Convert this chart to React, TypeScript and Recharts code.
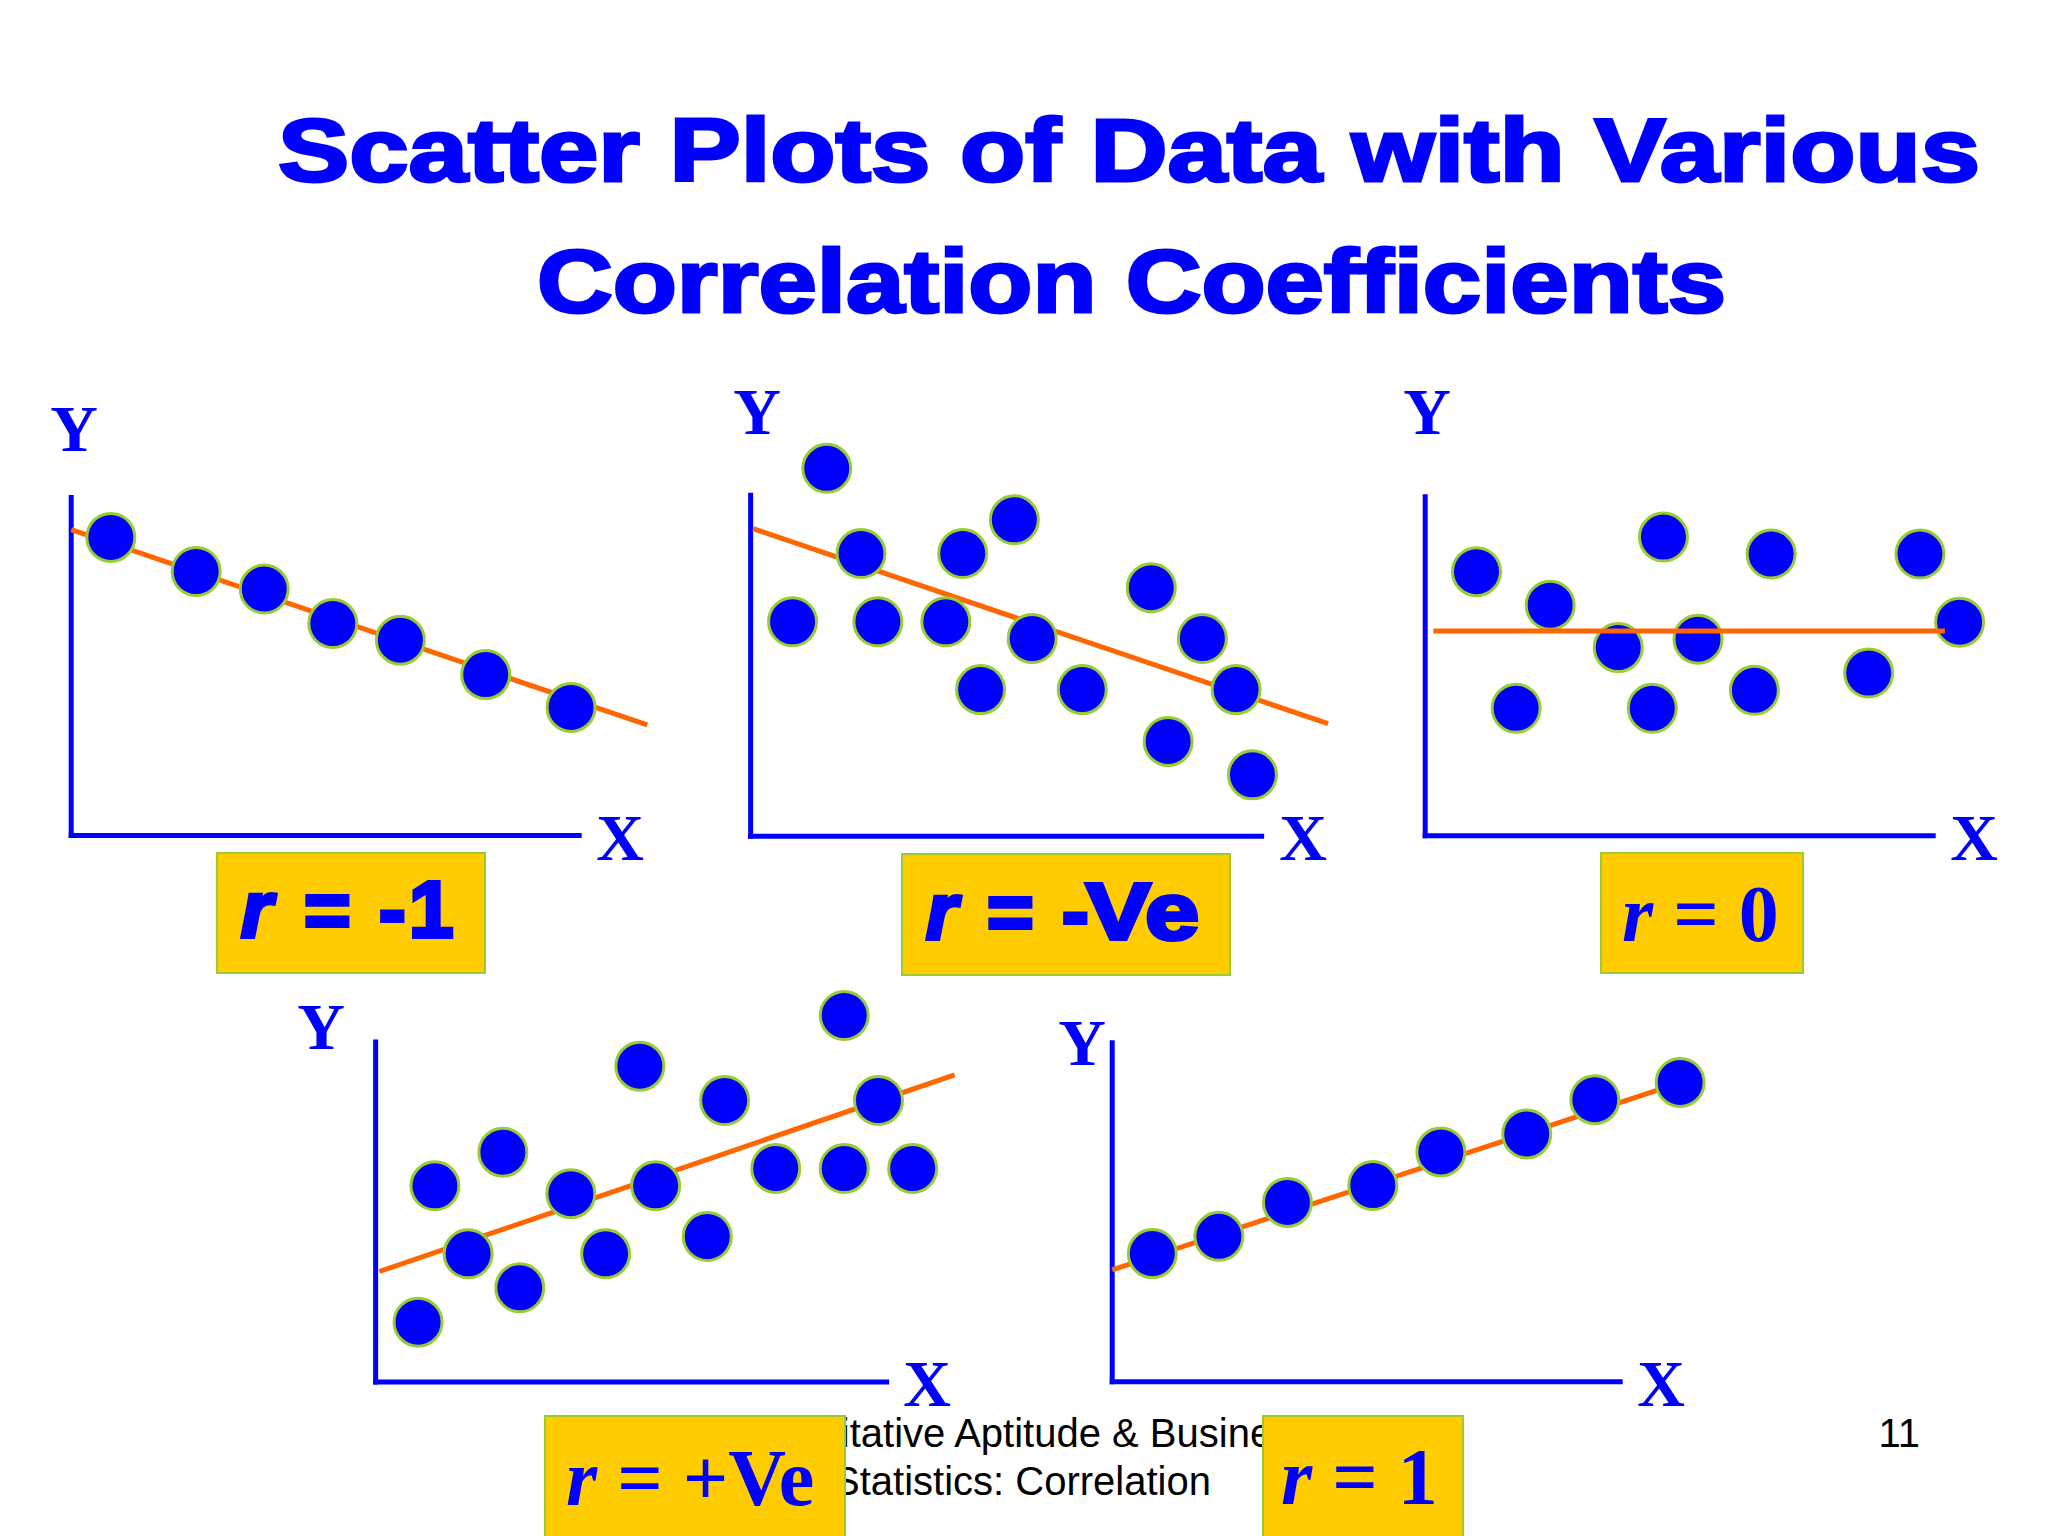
import { ScatterChart, Scatter, XAxis, YAxis, ReferenceLine } from "recharts";

// point clouds, in axis units: 0..10 along each drawn axis
const perfectNegative = [
  { x: 0.78, y: 8.82 }, { x: 2.46, y: 7.81 }, { x: 3.8, y: 7.29 }, { x: 5.15, y: 6.27 },
  { x: 6.48, y: 5.78 }, { x: 8.16, y: 4.76 }, { x: 9.84, y: 3.79 },
];
const perfectNegativeTrend = [{ x: 0, y: 9.05 }, { x: 11.34, y: 3.27 }];

const negative = [
  { x: 1.49, y: 10.79 }, { x: 2.16, y: 8.29 }, { x: 4.15, y: 8.29 }, { x: 5.16, y: 9.28 },
  { x: 0.82, y: 6.29 }, { x: 2.49, y: 6.29 }, { x: 3.82, y: 6.29 }, { x: 5.51, y: 5.8 },
  { x: 4.5, y: 4.3 }, { x: 6.49, y: 4.3 }, { x: 7.84, y: 7.29 }, { x: 8.84, y: 5.8 },
  { x: 9.5, y: 4.3 }, { x: 8.17, y: 2.78 }, { x: 9.82, y: 1.8 },
];
const negativeTrend = [{ x: 0.05, y: 9.02 }, { x: 11.3, y: 3.3 }];

const none = [
  { x: 1.01, y: 7.79 }, { x: 2.46, y: 6.8 }, { x: 3.8, y: 5.55 }, { x: 5.37, y: 5.8 },
  { x: 4.69, y: 8.81 }, { x: 6.81, y: 8.31 }, { x: 9.74, y: 8.31 }, { x: 10.52, y: 6.3 },
  { x: 1.79, y: 3.76 }, { x: 4.47, y: 3.76 }, { x: 6.48, y: 4.29 }, { x: 8.73, y: 4.8 },
];
const noneTrend = [{ x: 0.16, y: 6.04 }, { x: 10.23, y: 6.04 }];

const positive = [
  { x: 0.83, y: 1.76 }, { x: 1.16, y: 5.77 }, { x: 1.81, y: 3.77 }, { x: 2.49, y: 6.76 },
  { x: 2.82, y: 2.77 }, { x: 3.82, y: 5.54 }, { x: 4.5, y: 3.77 }, { x: 5.17, y: 9.29 },
  { x: 5.48, y: 5.77 }, { x: 6.49, y: 4.28 }, { x: 6.83, y: 8.28 }, { x: 7.83, y: 6.28 },
  { x: 9.17, y: 10.78 }, { x: 9.17, y: 6.28 }, { x: 9.84, y: 8.28 }, { x: 10.51, y: 6.28 },
];
const positiveTrend = [{ x: 0.07, y: 3.25 }, { x: 11.33, y: 9.03 }];

const perfectPositive = [
  { x: 0.79, y: 3.78 }, { x: 2.1, y: 4.29 }, { x: 3.45, y: 5.29 }, { x: 5.13, y: 5.79 },
  { x: 6.47, y: 6.78 }, { x: 8.16, y: 7.31 }, { x: 9.5, y: 8.32 }, { x: 11.18, y: 8.83 },
];
const perfectPositiveTrend = [{ x: 0, y: 3.3 }, { x: 11.2, y: 8.83 }];

const rSigns = ["-", "-", "", "+", ""];
const rValues = ["1", "Ve", "0", "Ve", "1"];

const BLUE = "#0000FF";
const ORANGE = "#FF6600";
const EDGE = "#99CC33";
const GOLD = "#FFCC00";
const X_DOMAIN = [-1.5, 12.5];
const Y_DOMAIN = [-1.5, 12.5];
const AXIS_MAX = 10;
const SANS = "'Liberation Sans', Arial, sans-serif";
const SERIF = "'Liberation Serif', 'Times New Roman', serif";

const dot = (p: any) => (
  <circle cx={p.cx} cy={p.cy} r={24} fill={BLUE} stroke={EDGE} strokeWidth={3} />
);
const noDot = () => <g />;

type Layout = { ox: number; oy: number; w: number; h: number };

function Panel({ layout, points, trend, lineOnTop }: { layout: Layout; points: any[]; trend: any[]; lineOnTop?: boolean }) {
  const { ox, oy, w, h } = layout;
  const ux = w / AXIS_MAX;
  const uy = h / AXIS_MAX;
  const width = (X_DOMAIN[1] - X_DOMAIN[0]) * ux;
  const height = (Y_DOMAIN[1] - Y_DOMAIN[0]) * uy;
  const left = ox + X_DOMAIN[0] * ux;
  const top = oy - Y_DOMAIN[1] * uy;

  const trendSeries = (
    <Scatter key="trend" data={trend} stroke={ORANGE} strokeWidth={5}
      line={{ stroke: ORANGE, strokeWidth: 5 }} shape={noDot} isAnimationActive={false} />
  );
  const dotSeries = <Scatter key="dots" data={points} shape={dot} isAnimationActive={false} />;

  return (
    <div style={{ position: "absolute", left, top, width, height }}>
      <ScatterChart width={width} height={height} margin={{ top: 0, right: 0, bottom: 0, left: 0 }}>
        <XAxis type="number" dataKey="x" domain={X_DOMAIN} allowDataOverflow hide />
        <YAxis type="number" dataKey="y" domain={Y_DOMAIN} allowDataOverflow hide />
        <ReferenceLine segment={[{ x: 0, y: 0 }, { x: 0, y: AXIS_MAX }]} stroke={BLUE} strokeWidth={5} strokeLinecap="square" />
        <ReferenceLine segment={[{ x: 0, y: 0 }, { x: AXIS_MAX, y: 0 }]} stroke={BLUE} strokeWidth={5} strokeLinecap="square" />
        {lineOnTop ? [dotSeries, trendSeries] : [trendSeries, dotSeries]}
      </ScatterChart>
    </div>
  );
}

const layouts: Layout[] = [
  { ox: 71, oy: 835, w: 508, h: 338 },
  { ox: 751, oy: 836, w: 511, h: 341 },
  { ox: 1425, oy: 836, w: 508, h: 339 },
  { ox: 376, oy: 1382, w: 511, h: 340 },
  { ox: 1112, oy: 1382, w: 508, h: 339 },
];

// axis letters: [Y center x, Y center y, X center x, X center y]
const letterPos = [
  [74, 429, 620, 838],
  [757, 412, 1303, 838],
  [1427, 412, 1974, 838],
  [321, 1027, 927, 1384],
  [1082, 1043, 1661, 1384],
];

// r boxes: rect, then x of "r", "=", sign, value (+ its width) and the baseline
const boxes = [
  { x: 217, y: 853, w: 268, h: 120, rx: 241, ex: 304, sx: 379, vx: 409, vw: 0, ty: 937, sans: true },
  { x: 902, y: 854, w: 328, h: 121, rx: 926, ex: 987, sx: 1062, vx: 1086, vw: 113, ty: 939, sans: true },
  { x: 1601, y: 853, w: 202, h: 120, rx: 1622, ex: 0, sx: 0, vx: 0, vw: 0, ty: 941, sans: false },
  { x: 545, y: 1416, w: 300, h: 130, rx: 566, ex: 0, sx: 0, vx: 0, vw: 0, ty: 1505, sans: false },
  { x: 1263, y: 1416, w: 200, h: 130, rx: 1281, ex: 0, sx: 0, vx: 0, vw: 0, ty: 1504, sans: false },
];

export default function App() {
  return (
    <div style={{ position: "absolute", left: 0, top: 0, width: 2048, height: 1536, background: "#fff", overflow: "hidden" }}>
      <Panel layout={layouts[0]} points={perfectNegative} trend={perfectNegativeTrend} />
      <Panel layout={layouts[1]} points={negative} trend={negativeTrend} />
      <Panel layout={layouts[2]} points={none} trend={noneTrend} lineOnTop />
      <Panel layout={layouts[3]} points={positive} trend={positiveTrend} />
      <Panel layout={layouts[4]} points={perfectPositive} trend={perfectPositiveTrend} />

      <svg width={2048} height={1536} style={{ position: "absolute", left: 0, top: 0, pointerEvents: "none" }}>
        <g fill={BLUE} stroke={BLUE} strokeWidth={3} fontFamily={SANS} fontWeight="bold" fontSize={89}>
          <text x={278} y={181} textLength={1702} lengthAdjust="spacingAndGlyphs">Scatter Plots of Data with Various</text>
          <text x={537} y={312} textLength={1189} lengthAdjust="spacingAndGlyphs">Correlation Coefficients</text>
        </g>

        <g fill={BLUE} fontFamily={SERIF} fontWeight="bold" fontSize={66} textAnchor="middle">
          {letterPos.map((p, i) => (
            <g key={i}>
              <text x={p[0]} y={p[1] + 22}>Y</text>
              <text x={p[2]} y={p[3] + 22}>X</text>
            </g>
          ))}
        </g>

        <g fill="#000" fontFamily={SANS} fontSize={40}>
          <text x={1022} y={1447} textAnchor="middle">Quantitative Aptitude &amp; Business</text>
          <text x={1022} y={1495} textAnchor="middle">Statistics: Correlation</text>
          <text x={1920} y={1447} textAnchor="end">11</text>
        </g>

        {boxes.map((b, i) => (
          <g key={i}>
            <rect x={b.x} y={b.y} width={b.w} height={b.h} fill={GOLD} stroke={EDGE} strokeWidth={2} />
            {b.sans ? (
              <text y={b.ty} fill={BLUE} stroke={BLUE} strokeWidth={4} fontFamily={SANS} fontWeight="bold" fontSize={80}>
                <tspan x={b.rx} fontStyle="italic">r</tspan>
                <tspan x={b.ex}>=</tspan>
                <tspan x={b.sx}>{rSigns[i]}</tspan>
                {b.vw ? (
                  <tspan x={b.vx} textLength={b.vw} lengthAdjust="spacingAndGlyphs">{rValues[i]}</tspan>
                ) : (
                  <tspan x={b.vx}>{rValues[i]}</tspan>
                )}
              </text>
            ) : (
              <text x={b.rx} y={b.ty} fill={BLUE} fontFamily={SERIF} fontWeight="bold" fontSize={80}>
                <tspan fontStyle="italic">r</tspan>{" = " + rSigns[i] + rValues[i]}
              </text>
            )}
          </g>
        ))}
      </svg>
    </div>
  );
}
